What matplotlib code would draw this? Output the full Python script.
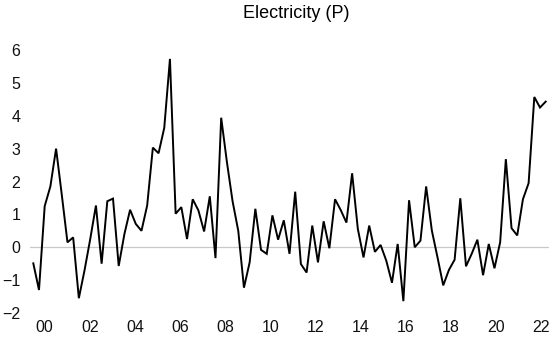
import matplotlib
matplotlib.use('Agg')
import matplotlib.pyplot as plt
import numpy as np

plt.rcParams['font.family'] = ['Liberation Sans', 'DejaVu Sans']

title = 'Electricity (P)'
start_year = 1999.5  # first quarter shown (1999 Q3)

values = [
    -0.49, -1.3, 1.25, 1.85, 3.0, 1.6, 0.15, 0.3, -1.55, -0.7,
    0.25, 1.27, -0.5, 1.4, 1.48, -0.57, 0.4, 1.14, 0.71, 0.5,
    1.27, 3.03, 2.86, 3.63, 5.73, 1.02, 1.22, 0.25, 1.46, 1.12,
    0.48, 1.55, -0.33, 3.94, 2.6, 1.4, 0.5, -1.23, -0.46, 1.17,
    -0.08, -0.2, 0.97, 0.23, 0.82, -0.2, 1.69, -0.51, -0.77, 0.66,
    -0.46, 0.79, -0.03, 1.46, 1.13, 0.75, 2.25, 0.56, -0.31, 0.66,
    -0.14, 0.07, -0.41, -1.08, 0.1, -1.64, 1.43, 0.0, 0.2, 1.85,
    0.51, -0.31, -1.16, -0.69, -0.38, 1.49, -0.58, -0.2, 0.23, -0.85,
    0.1, -0.64, 0.15, 2.68, 0.58, 0.36, 1.46, 1.95, 4.57, 4.25,
    4.43,
]
year_ticks = list(range(2000, 2023, 2))
year_labels = ['%02d' % (y % 100) for y in year_ticks]
y_ticks = [-2, -1, 0, 1, 2, 3, 4, 5, 6]

t = start_year + 0.25 * np.arange(len(values))

fig = plt.figure(figsize=(5.55, 3.38), dpi=100)
ax = fig.add_axes([30 / 555, 25 / 338, 519 / 555, 263 / 338])

ax.axhline(0, color='#c8c8c8', lw=0.9, zorder=1)
ax.plot(t, values, color='black', lw=1.4, zorder=2, solid_joinstyle='miter')

ax.set_xlim(1999.355, 2022.145)
ax.set_ylim(-2, 6)
# labels sit a touch left of the quarter grid in the original
ax.set_xticks([y - 0.01 * (y - 2000) for y in year_ticks])
ax.set_xticklabels(year_labels)
ax.set_yticks(y_ticks)
ax.tick_params(length=0, labelsize=11.5, colors='#111111')
ax.tick_params(axis='x', pad=5)
ax.tick_params(axis='y', pad=7)
for s in ax.spines.values():
    s.set_visible(False)

fig.text(296 / 555, 1 - 13 / 338, title, ha='center', va='center', fontsize=13)

fig.savefig('out.png', dpi=100)
